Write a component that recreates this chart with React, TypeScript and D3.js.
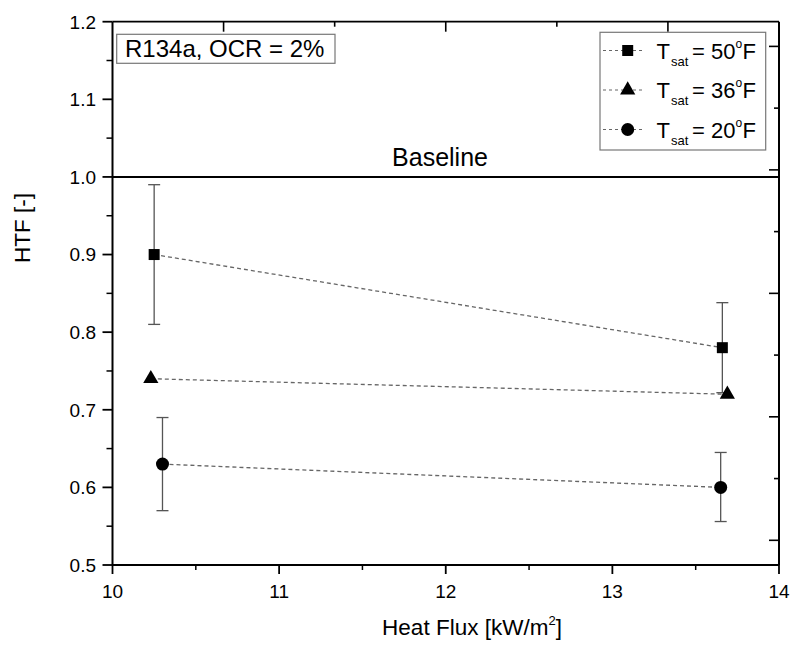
import React from "react";
import * as d3 from "d3";

const seriesNames = ["50", "36", "20"];
const seriesSymbols = ["square", "triangle", "circle"];
const heatFlux50 = [10.25, 13.66];
const htf50 = [0.9, 0.78];
const errLow50 = [0.81, 0.722];
const errHigh50 = [0.99, 0.838];
const heatFlux36 = [10.23, 13.69];
const htf36 = [0.74, 0.72];
const heatFlux20 = [10.3, 13.65];
const htf20 = [0.63, 0.6];
const errLow20 = [0.57, 0.556];
const errHigh20 = [0.69, 0.645];
const yMajorTicks = [0.5, 0.6, 0.7, 0.8, 0.9, 1.0, 1.1, 1.2];
const yMinorTicks = [0.55, 0.65, 0.75, 0.85, 0.95, 1.05, 1.15];
const xMajorTicks = [10, 11, 12, 13, 14];
const xMinorTicks = [10.5, 11.5, 12.5, 13.5];
const topTicks = [1, 2, 3, 4, 5];
const rightTicks = [0, 1, 2, 3, 4, 5, 6, 7, 8];
const baselineValue = 1.0;

const FONT = "'Liberation Sans', Arial, Helvetica, sans-serif";

export default function App() {
  const L = 112.5, R = 779, T = 21.7, B = 565;
  const x = d3.scaleLinear().domain([10, 14]).range([L, R]);
  const y = d3.scaleLinear().domain([0.5, 1.2]).range([B, T]);
  const xTop = d3.scaleLinear().domain([0, 6]).range([L, R]);
  const yRight = d3.scaleLinear().domain([-0.4, 8.4]).range([B, T]);

  const sym = (name: string) => {
    if (name === "square") return d3.symbol(d3.symbolSquare, 121)()!;
    if (name === "triangle") return d3.symbol(d3.symbolTriangle, 100)()!;
    return d3.symbol(d3.symbolCircle, 133)()!;
  };

  const line = d3.line<[number, number]>().x((d) => x(d[0])).y((d) => y(d[1]));

  const series = [
    { xs: heatFlux50, ys: htf50, lo: errLow50, hi: errHigh50, s: seriesSymbols[0] },
    { xs: heatFlux36, ys: htf36, lo: null as number[] | null, hi: null as number[] | null, s: seriesSymbols[1] },
    { xs: heatFlux20, ys: htf20, lo: errLow20, hi: errHigh20, s: seriesSymbols[2] },
  ];

  const legendRows = [50.5, 90, 129.5];

  return (
    <svg
      width={790}
      height={652}
      style={{ position: "absolute", left: 0, top: 0, background: "#fff" }}
      fontFamily={FONT}
    >
      <rect x={0} y={0} width={790} height={652} fill="#fff" />
      {series.map((sr, i) => (
        <path
          key={"l" + i}
          d={line(sr.xs.map((v, j) => [v, sr.ys[j]] as [number, number]))!}
          fill="none"
          stroke="#666"
          strokeWidth={1.3}
          strokeDasharray="4,3"
        />
      ))}
      {series.map((sr, i) =>
        sr.lo
          ? sr.xs.map((v, j) => (
              <g key={"e" + i + j} stroke="#555" strokeWidth={1.3}>
                <line x1={x(v)} x2={x(v)} y1={y(sr.lo![j])} y2={y(sr.hi![j])} />
                <line x1={x(v) - 6} x2={x(v) + 6} y1={y(sr.lo![j])} y2={y(sr.lo![j])} />
                <line x1={x(v) - 6} x2={x(v) + 6} y1={y(sr.hi![j])} y2={y(sr.hi![j])} />
              </g>
            ))
          : null
      )}
      {series.map((sr, i) =>
        sr.xs.map((v, j) => (
          <path key={"m" + i + j} d={sym(sr.s)} transform={`translate(${x(v)},${y(sr.ys[j])})`} fill="#000" />
        ))
      )}
      <line x1={L} x2={R} y1={y(baselineValue)} y2={y(baselineValue)} stroke="#000" strokeWidth={2} />
      <text x={440} y={166} fontSize={25} textAnchor="middle" fill="#000">Baseline</text>

      <line x1={L} x2={R} y1={T} y2={T} stroke="#000" strokeWidth={1.8} />
      <line x1={L} x2={R} y1={B} y2={B} stroke="#000" strokeWidth={2} />
      <line x1={L} x2={L} y1={T} y2={B} stroke="#000" strokeWidth={2} />
      <line x1={R} x2={R} y1={T} y2={B} stroke="#000" strokeWidth={2} />

      {yMajorTicks.map((t) => (
        <g key={"yl" + t}>
          <line x1={L - 10} x2={L} y1={y(t)} y2={y(t)} stroke="#000" strokeWidth={1.8} />
          <text x={96} y={y(t) + 6.8} fontSize={19} textAnchor="end" fill="#000">{t.toFixed(1)}</text>
        </g>
      ))}
      {yMinorTicks.map((t) => (
        <line key={"ym" + t} x1={L - 6} x2={L} y1={y(t)} y2={y(t)} stroke="#000" strokeWidth={1.5} />
      ))}
      {xMajorTicks.map((t) => (
        <g key={"xb" + t}>
          <line x1={x(t)} x2={x(t)} y1={B} y2={B + 9} stroke="#000" strokeWidth={1.8} />
          <text x={x(t)} y={598} fontSize={19} textAnchor="middle" fill="#000">{t}</text>
        </g>
      ))}
      {xMinorTicks.map((t) => (
        <line key={"xm" + t} x1={x(t)} x2={x(t)} y1={B} y2={B + 5} stroke="#000" strokeWidth={1.5} />
      ))}
      {topTicks.map((t) => (
        <line key={"xt" + t} x1={xTop(t)} x2={xTop(t)} y1={T} y2={T + (t % 2 === 1 ? 10 : 5)} stroke="#000" strokeWidth={1.6} />
      ))}
      {rightTicks.map((t) => (
        <line key={"yr" + t} x1={R - (t % 2 === 0 ? 10 : 5)} x2={R} y1={yRight(t)} y2={yRight(t)} stroke="#000" strokeWidth={1.6} />
      ))}

      <text x={472} y={635} fontSize={22.5} textAnchor="middle" fill="#000">
        Heat Flux [kW/m<tspan fontSize={13} dy={-10}>2</tspan><tspan dy={10}>]</tspan>
      </text>
      <text transform="translate(30,228) rotate(-90)" fontSize={22.5} textAnchor="middle" fill="#000">HTF [-]</text>

      <rect x={116.7} y={34.3} width={218.3} height={29} fill="#fff" stroke="#777" strokeWidth={1.2} />
      <text x={125} y={57.3} fontSize={24} fill="#000">R134a, OCR = 2%</text>

      <rect x={600} y={32.3} width={165.7} height={117.7} fill="#fff" stroke="#777" strokeWidth={1.2} />
      {legendRows.map((ry, i) => (
        <g key={"lg" + i}>
          <line x1={603} x2={645} y1={ry} y2={ry} stroke="#666" strokeWidth={1.2} strokeDasharray="3,3" />
          <path d={sym(seriesSymbols[i])} transform={`translate(627.7,${ry})`} fill="#000" />
          <text x={656.5} y={ry + 8} fontSize={22} fill="#000">T</text>
          <text x={671} y={ry + 15} fontSize={13} fill="#000">sat</text>
          <text x={692} y={ry + 8} fontSize={22} fill="#000">= {seriesNames[i]}</text>
          <text x={735.5} y={ry - 3} fontSize={12} fill="#000">o</text>
          <text x={742.5} y={ry + 8} fontSize={22} fill="#000">F</text>
        </g>
      ))}
    </svg>
  );
}
